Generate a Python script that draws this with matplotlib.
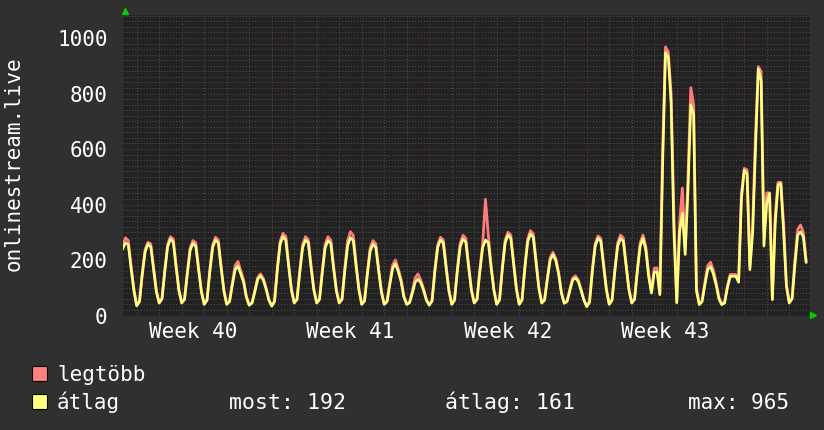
import numpy as np
import matplotlib.pyplot as plt
from matplotlib.patches import Rectangle
from matplotlib.transforms import blended_transform_factory

plt.rcParams['font.family'] = 'DejaVu Sans Mono'

# 3-hour samples, first one at day 0.375 (one line = one day)
atlag = [
    240, 262, 255, 170, 90,
    35, 50, 150, 230, 257, 248, 165, 85,
    45, 60, 160, 248, 275, 265, 175, 90,
    45, 58, 150, 235, 260, 250, 165, 85,
    40, 55, 158, 245, 272, 262, 172, 88,
    40, 50, 110, 165, 178, 150, 120, 65,
    37, 45, 85, 130, 143, 128, 95, 55,
    34, 50, 165, 258, 284, 272, 180, 92,
    45, 58, 158, 245, 272, 262, 172, 90,
    45, 58, 156, 244, 270, 260, 170, 88,
    45, 58, 162, 252, 281, 270, 178, 92,
    40, 52, 148, 232, 257, 246, 162, 84,
    40, 50, 112, 170, 186, 158, 122, 66,
    40, 46, 80, 120, 131, 118, 90, 55,
    37, 52, 158, 245, 272, 262, 172, 88,
    40, 55, 160, 248, 275, 265, 175, 90,
    45, 58, 158, 245, 272, 262, 172, 90,
    40, 56, 168, 262, 290, 278, 185, 95,
    40, 56, 170, 265, 294, 282, 188, 96,
    45, 55, 130, 200, 219, 198, 150, 80,
    44, 50, 90, 128, 135, 122, 90, 55,
    32, 48, 160, 250, 278, 268, 178, 92,
    40, 55, 160, 250, 278, 268, 178, 92,
    45, 58, 160, 250, 278, 237, 141, 81,
    157, 157, 75, 550, 948, 930, 765, 300,
    46, 300, 369, 220, 453, 760, 727, 90,
    39, 50, 110, 165, 177, 150, 110, 60,
    39, 45, 100, 141, 141, 141, 120, 420,
    523, 510, 165, 300, 600, 888, 846, 250,
    405, 440, 57, 330, 470, 476, 300, 105,
    45, 60, 180, 290, 302, 284, 192,
]
legtobb = [
    250, 280, 270, 180, 95,
    36, 52, 155, 238, 264, 258, 172, 88,
    46, 62, 166, 256, 284, 276, 182, 94,
    46, 60, 156, 244, 270, 262, 172, 88,
    41, 57, 165, 254, 282, 272, 180, 92,
    41, 52, 118, 180, 195, 162, 128, 68,
    38, 46, 90, 137, 150, 134, 100, 57,
    35, 52, 172, 268, 296, 285, 188, 96,
    46, 60, 165, 256, 284, 274, 180, 93,
    46, 60, 164, 256, 284, 272, 178, 92,
    46, 60, 172, 270, 302, 288, 188, 96,
    41, 54, 155, 244, 270, 258, 170, 88,
    41, 52, 120, 182, 200, 168, 130, 70,
    41, 48, 88, 135, 150, 128, 96, 58,
    38, 54, 165, 254, 282, 272, 180, 92,
    41, 57, 168, 260, 289, 278, 184, 94,
    46, 60, 166, 258, 419, 290, 182, 94,
    41, 58, 175, 272, 300, 290, 192, 98,
    41, 58, 178, 276, 306, 294, 196, 100,
    46, 57, 136, 208, 228, 205, 156, 84,
    45, 52, 95, 135, 143, 128, 94, 57,
    33, 50, 166, 258, 287, 278, 185, 95,
    41, 57, 167, 262, 290, 280, 186, 96,
    46, 60, 167, 262, 290, 250, 155, 85,
    170, 172, 80, 600, 968, 950, 800, 360,
    48, 330, 459, 240, 500, 821, 760, 100,
    42, 52, 120, 180, 192, 165, 120, 65,
    41, 47, 105, 148, 148, 148, 130, 440,
    530, 525, 180, 330, 650, 897, 880, 300,
    442, 442, 60, 360, 480, 480, 330, 110,
    48, 62, 200, 310, 326, 300, 200,
]
weeks = ["Week 40", "Week 41", "Week 42", "Week 43"]
yticks = [0, 200, 400, 600, 800, 1000]

t = 0.375 + 0.125 * np.arange(len(atlag))

W, H = 824, 430
fig = plt.figure(figsize=(W / 100, H / 100), dpi=100, facecolor='#303030')
ax = fig.add_axes([123 / W, 1 - 315.5 / H, 686.5 / W, 300.5 / H])
ax.set_facecolor('#222222')

# grid
dots = (0, (1, 2))
for v in range(20, 1090, 20):
    if v % 200:
        ax.axhline(v, color='#505050', lw=0.7, ls=dots, zorder=1)
    else:
        ax.axhline(v, color='#7a3636', lw=0.7, ls=dots, zorder=1)
for d in range(1, 31):
    c = '#7a3636' if d % 7 == 0 else '#505050'
    ax.axvline(d, color=c, lw=0.7, ls=dots, zorder=1)

ax.plot(t, legtobb, color='#ff7b7b', lw=2.0, zorder=3)
ax.plot(t, atlag, color='#ffff80', lw=1.9, zorder=4)

ax.set_xlim(0.391, 30.9)
ax.set_ylim(0, 1083)
for s in ax.spines.values():
    s.set_visible(False)

ax.set_xticks([])
ax.set_yticks(yticks)
ax.set_yticklabels([str(v) for v in yticks])
ax.tick_params(axis='y', length=0, pad=11, labelsize=15, labelcolor='white')

# axis arrows
ax.plot([0.003], [1.0135], marker='^', color='#00cc00', ms=5, transform=ax.transAxes, clip_on=False)
ax.plot([1.0055], [0.002], marker='>', color='#00cc00', ms=5, transform=ax.transAxes, clip_on=False)

tr = blended_transform_factory(ax.transData, fig.transFigure)
for i, w in enumerate(weeks):
    ax.text(3.5 + 7 * i, 1 - 338 / H, w, transform=tr, ha='center', va='baseline',
            color='white', fontsize=15)

fig.text(19.5 / W, 1 - 164 / H, "onlinestream.live", rotation=90, rotation_mode='anchor',
         ha='center', va='baseline', color='white', fontsize=15)

# legend
fig.add_artist(Rectangle((32 / W, 1 - 381 / H), 15 / W, 15 / H, transform=fig.transFigure,
                         facecolor='#ff8080', edgecolor='black', lw=0.8))
fig.add_artist(Rectangle((32 / W, 1 - 409 / H), 15 / W, 15 / H, transform=fig.transFigure,
                         facecolor='#ffff80', edgecolor='black', lw=0.8))
fig.text(57 / W, 1 - 381 / H, "legtöbb", color='white', fontsize=15, va='baseline')
fig.text(57 / W, 1 - 409 / H, "átlag", color='white', fontsize=15, va='baseline')
fig.text(229 / W, 1 - 409 / H, "most: 192", color='white', fontsize=15.5, va='baseline')
fig.text(445 / W, 1 - 409 / H, "átlag: 161", color='white', fontsize=15.5, va='baseline')
fig.text(688 / W, 1 - 409 / H, "max: 965", color='white', fontsize=15, va='baseline')

fig.savefig('out.png', dpi=100, facecolor=fig.get_facecolor())
